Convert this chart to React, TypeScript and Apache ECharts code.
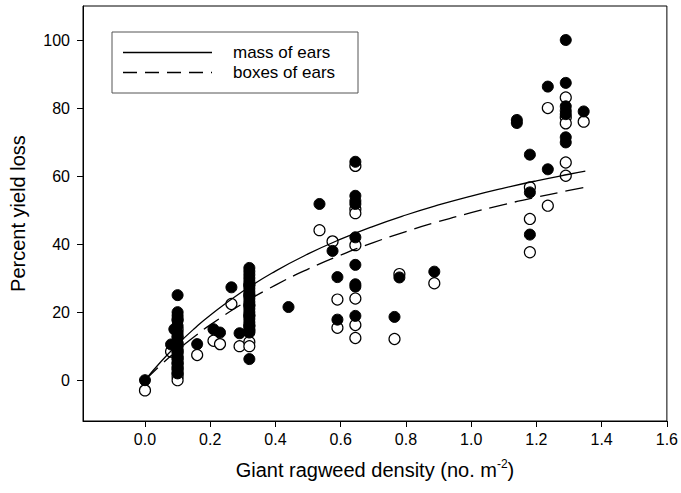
import React, { useEffect, useRef } from "react";
import * as echarts from "echarts";

// Filled circles: mass of ears
const massDensity = [
  0, 0.08, 0.09,
  0.1, 0.1, 0.1, 0.1, 0.1, 0.1, 0.1, 0.1, 0.1, 0.1, 0.1, 0.1, 0.1, 0.1, 0.1, 0.1, 0.1,
  0.16, 0.21, 0.23, 0.265, 0.29,
  0.32, 0.32, 0.32, 0.32, 0.32, 0.32, 0.32, 0.32, 0.32, 0.32, 0.32, 0.32, 0.32, 0.32, 0.32, 0.32, 0.32, 0.32, 0.32, 0.32, 0.32,
  0.44, 0.535, 0.575, 0.59, 0.59,
  0.645, 0.645, 0.645, 0.645, 0.645, 0.645, 0.645, 0.645, 0.645,
  0.765, 0.78, 0.887,
  1.14, 1.14, 1.18, 1.18, 1.18, 1.235, 1.235,
  1.29, 1.29, 1.29, 1.29, 1.29, 1.29, 1.29, 1.345,
];
const massLoss = [
  0, 10.5, 15,
  25, 20, 19, 17.5, 16, 14, 12.5, 11, 10, 9, 8, 7, 6, 5, 4, 3, 2,
  10.6, 15, 14, 27.3, 13.8,
  33, 32, 31, 30, 29, 28, 27, 26, 25, 24, 23, 22, 21, 20, 19, 18, 17, 16, 15, 14, 6.2,
  21.5, 51.8, 38, 30.3, 17.8,
  64.2, 54.2, 52.7, 51.8, 42, 33.9, 28.2, 27.5, 18.9,
  18.6, 30.2, 31.9,
  76.5, 75.6, 66.3, 55.2, 42.8, 86.3, 62,
  100, 87.4, 80.5, 79.2, 78.2, 71.4, 69.9, 79,
];

// Open circles: boxes of ears
const boxDensity = [
  0, 0.08,
  0.1, 0.1, 0.1, 0.1, 0.1, 0.1, 0.1, 0.1, 0.1, 0.1, 0.1,
  0.16, 0.21, 0.23, 0.265, 0.29,
  0.32, 0.32, 0.32, 0.32, 0.32, 0.32, 0.32, 0.32,
  0.535, 0.575, 0.59, 0.59,
  0.645, 0.645, 0.645, 0.645, 0.645, 0.645, 0.645,
  0.765, 0.78, 0.887,
  1.18, 1.18, 1.18, 1.235, 1.235,
  1.29, 1.29, 1.29, 1.29, 1.29, 1.345,
];
const boxLoss = [
  -3, 8.4,
  18, 15, 13, 10.5, 8.5, 6.5, 5, 3.5, 2, 1, 0,
  7.4, 11.6, 10.6, 22.4, 10,
  28, 25, 22, 19, 16, 14.5, 11.2, 10,
  44.1, 40.8, 23.7, 15.4,
  63, 50.3, 49.1, 39.7, 24, 16.2, 12.4,
  12.1, 31.2, 28.5,
  56.7, 47.4, 37.6, 80, 51.3,
  83.1, 77.3, 75.5, 64, 60.1, 76,
];

// Fitted curves
const curveDensity = [0, 0.05, 0.1, 0.15, 0.2, 0.3, 0.4, 0.5, 0.6, 0.7, 0.8, 0.9, 1.0, 1.1, 1.2, 1.3, 1.35];
const massCurve = [0, 5.57, 10.55, 15.04, 19.09, 26.14, 32.07, 37.11, 41.45, 45.24, 48.56, 51.5, 54.13, 56.48, 58.61, 60.54, 61.43];
const boxCurve = [0, 4.63, 8.84, 12.7, 16.25, 22.54, 27.95, 32.66, 36.79, 40.44, 43.69, 46.61, 49.24, 51.62, 53.79, 55.77, 56.7];

const xTicks = [0, 0.2, 0.4, 0.6, 0.8, 1.0, 1.2, 1.4, 1.6];
const yTicks = [0, 20, 40, 60, 80, 100];

const legendLabels = ["mass of ears", "boxes of ears"];

const FONT = "'Liberation Sans', Arial, Helvetica, sans-serif";

export default function App() {
  const ref = useRef<HTMLDivElement>(null);

  useEffect(() => {
    if (!ref.current) return;
    const chart = echarts.init(ref.current, null, { renderer: "svg" });
    const zip = (xs: number[], ys: number[]) => xs.map((x, i) => [x, ys[i]]);
    const DASH = [18, 8];

    chart.setOption({
      animation: false,
      backgroundColor: "#fff",
      textStyle: { fontFamily: FONT, color: "#000" },
      grid: {
        left: 82,
        right: 13,
        top: 6,
        bottom: 72,
        show: true,
        borderColor: "#000",
        borderWidth: 1,
        backgroundColor: "transparent",
      },
      xAxis: {
        type: "value",
        min: -0.19,
        max: 1.6,
        name: "{a|Giant ragweed density (no. m}{s|-2}{a|)}",
        nameLocation: "middle",
        nameGap: 37,
        nameTextStyle: {
          rich: {
            a: { fontSize: 20, fontFamily: FONT, color: "#000" },
            s: { fontSize: 12, fontFamily: FONT, color: "#000", padding: [0, 0, 12, 0] },
          },
        },
        axisLine: { show: true, onZero: false, lineStyle: { color: "#000", width: 1 } },
        axisTick: { show: true, inside: false, length: 6, customValues: xTicks, lineStyle: { color: "#000" } },
        axisLabel: {
          customValues: xTicks,
          formatter: (v: number) => v.toFixed(1),
          fontSize: 16,
          color: "#000",
          margin: 10,
          fontFamily: FONT,
        },
        splitLine: { show: false },
      },
      yAxis: {
        type: "value",
        min: -12,
        max: 110,
        name: "Percent yield loss",
        nameLocation: "middle",
        nameGap: 55,
        nameTextStyle: { fontSize: 20, color: "#000", fontFamily: FONT },
        axisLine: { show: true, onZero: false, lineStyle: { color: "#000", width: 1 } },
        axisTick: { show: true, inside: false, length: 6, customValues: yTicks, lineStyle: { color: "#000" } },
        axisLabel: {
          customValues: yTicks,
          fontSize: 16,
          color: "#000",
          margin: 13,
          fontFamily: FONT,
        },
        splitLine: { show: false },
      },
      series: [
        {
          name: "boxes of ears (observed)",
          type: "scatter",
          data: zip(boxDensity, boxLoss),
          symbol: "circle",
          symbolSize: 11,
          itemStyle: { color: "#fff", borderColor: "#000", borderWidth: 1.2, opacity: 1 },
          z: 2,
        },
        {
          name: "mass of ears (observed)",
          type: "scatter",
          data: zip(massDensity, massLoss),
          symbol: "circle",
          symbolSize: 11,
          itemStyle: { color: "#000", borderColor: "#000", borderWidth: 1, opacity: 1 },
          z: 3,
        },
        {
          name: legendLabels[0],
          type: "line",
          data: zip(curveDensity, massCurve),
          smooth: true,
          symbol: "none",
          lineStyle: { color: "#000", width: 1.3 },
          z: 4,
        },
        {
          name: legendLabels[1],
          type: "line",
          data: zip(curveDensity, boxCurve),
          smooth: true,
          symbol: "none",
          lineStyle: { color: "#000", width: 1.3, type: DASH },
          z: 4,
        },
      ],
      graphic: [
        {
          type: "rect",
          shape: { x: 112, y: 32, width: 246, height: 61 },
          style: { fill: "#fff", stroke: "#555", lineWidth: 1 },
          z: 10,
        },
        {
          type: "line",
          shape: { x1: 123, y1: 52.5, x2: 212, y2: 52.5 },
          style: { stroke: "#000", lineWidth: 1.3 },
          z: 11,
        },
        {
          type: "line",
          shape: { x1: 123, y1: 72.5, x2: 212, y2: 72.5 },
          style: { stroke: "#000", lineWidth: 1.3, lineDash: [14, 8] },
          z: 11,
        },
        {
          type: "text",
          x: 233,
          y: 52.5,
          style: { text: legendLabels[0], fontSize: 17, fontFamily: FONT, fill: "#000", textVerticalAlign: "middle" },
          z: 11,
        },
        {
          type: "text",
          x: 233,
          y: 72.5,
          style: { text: legendLabels[1], fontSize: 17, fontFamily: FONT, fill: "#000", textVerticalAlign: "middle" },
          z: 11,
        },
      ],
    });
    return () => chart.dispose();
  }, []);

  return (
    <div
      ref={ref}
      style={{ position: "fixed", left: 0, top: 0, width: 681, height: 493, background: "#fff" }}
    />
  );
}
